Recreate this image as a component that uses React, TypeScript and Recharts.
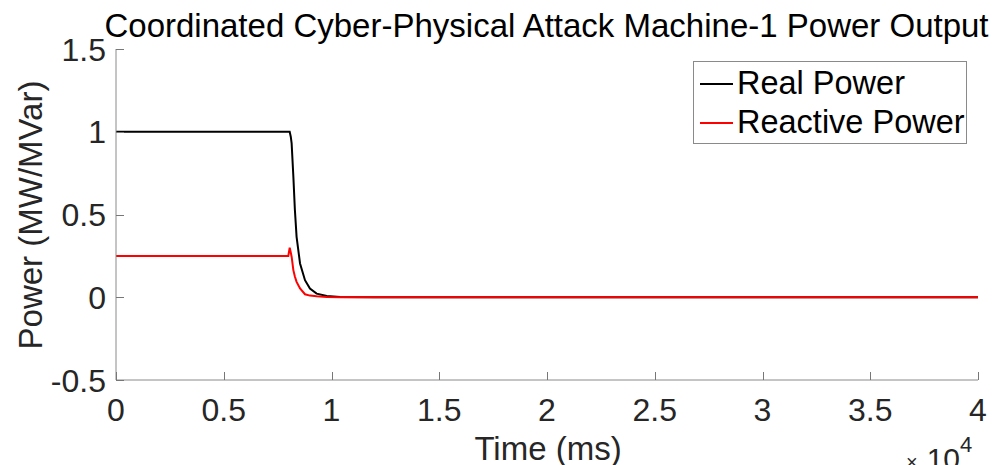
import React from 'react';
import { LineChart, Line, XAxis, YAxis } from 'recharts';

const timeMs = [0, 7995, 8060, 8110, 8150, 8230, 8300, 8380, 8540, 8770, 9000, 9310, 9780, 10400, 12000, 20000, 30000, 40000];
const realPower = [1, 1, 1, 0.97, 0.93, 0.73, 0.53, 0.365, 0.204, 0.103, 0.053, 0.022, 0.008, 0.002, 0, 0, 0, 0];
const reactivePower = [0.25, 0.25, 0.3, 0.27, 0.245, 0.164, 0.125, 0.093, 0.053, 0.018, 0.01, 0.006, 0.002, 0, 0, 0, 0, 0];
const xTicks = [0, 5000, 10000, 15000, 20000, 25000, 30000, 35000, 40000];
const yTicks = [-0.5, 0, 0.5, 1, 1.5];
const seriesNames = ['Real Power', 'Reactive Power'];
const seriesColors = ['#000000', '#ff0000'];

const data = timeMs.map((t, i) => ({ t, real: realPower[i], reactive: reactivePower[i] }));

const FONT = 'Liberation Sans, Arial, sans-serif';
const AX = '#8a8a8a';
const TICK = '#777777';
const TXT = '#262626';
const TL = 8;

const LegendBox = () => (
  <div style={{ position: 'absolute', left: 693, top: 61, border: `1px solid ${AX}`, background: '#fff', width: 274, height: 83, boxSizing: 'border-box', fontFamily: FONT, fontSize: 32.5, color: '#000', padding: '2px 0 0 6px' }}>
    {seriesNames.map((name, i) => (
      <div key={name} style={{ display: 'flex', alignItems: 'center', height: 39, whiteSpace: 'nowrap' }}>
        <div style={{ width: 33, height: 0, borderTop: `2px solid ${seriesColors[i]}`, marginRight: 4 }} />
        <span>{name}</span>
      </div>
    ))}
  </div>
);

const fmt = (v: number) => String(Math.round(v * 10) / 10);

const BottomTick = (p: any) => {
  const x = Math.round(p.x) + 0.5;
  return (
    <g>
      <path d={`M${x},${p.y}V${p.y - TL}`} stroke={TICK} strokeWidth={1} fill="none" />
      <text x={p.x} y={p.y + 41} textAnchor="middle" fontFamily={FONT} fontSize={32} fill={TXT}>
        {fmt(p.payload.value / 10000)}
      </text>
    </g>
  );
};
const TopTick = (p: any) => {
  const x = Math.round(p.x) + 0.5;
  return <path d={`M${x},${p.y}V${p.y + TL}`} stroke={TICK} strokeWidth={1} fill="none" />;
};
const LeftTick = (p: any) => {
  const y = Math.round(p.y) + 0.5;
  return (
    <g>
      <path d={`M${p.x},${y}H${p.x + TL}`} stroke={TICK} strokeWidth={1} fill="none" />
      <text x={p.x - 10} y={p.y + 11.5} textAnchor="end" fontFamily={FONT} fontSize={32} fill={TXT}>
        {fmt(p.payload.value)}
      </text>
    </g>
  );
};
const RightTick = (p: any) => {
  const y = Math.round(p.y) + 0.5;
  return <path d={`M${p.x},${y}H${p.x - TL}`} stroke={TICK} strokeWidth={1} fill="none" />;
};

export default function App() {
  return (
    <div style={{ position: 'absolute', left: 0, top: 0, width: 996, height: 465, background: '#fff', overflow: 'hidden' }}>
      <LineChart width={996} height={465} data={data} margin={{ top: 49, right: 18, bottom: 0, left: 0 }}>
        <text x={546.5} y={37} textAnchor="middle" fontFamily={FONT} fontSize={33} fill="#000">
          Coordinated Cyber-Physical Attack Machine-1 Power Output
        </text>
        <XAxis
          dataKey="t"
          type="number"
          domain={[0, 40000]}
          ticks={xTicks}
          height={85}
          stroke={AX}
          tickSize={0}
          tickMargin={0}
          tickLine={false}
          tick={<BottomTick />}
          interval={0}
          allowDataOverflow
        />
        <XAxis
          xAxisId="top"
          orientation="top"
          type="number"
          domain={[0, 40000]}
          ticks={xTicks}
          height={0}
          stroke={AX}
          tickSize={0}
          tickMargin={0}
          tickLine={false}
          tick={<TopTick />}
          interval={0}
        />
        <YAxis
          type="number"
          domain={[-0.5, 1.5]}
          ticks={yTicks}
          width={116}
          stroke={AX}
          tickSize={0}
          tickMargin={0}
          tickLine={false}
          tick={<LeftTick />}
          interval={0}
          allowDataOverflow
        />
        <YAxis
          yAxisId="right"
          orientation="right"
          type="number"
          domain={[-0.5, 1.5]}
          ticks={yTicks}
          width={0}
          stroke={AX}
          tickSize={0}
          tickMargin={0}
          tickLine={false}
          tick={<RightTick />}
          interval={0}
        />
        <text x={548} y={460} textAnchor="middle" fontFamily={FONT} fontSize={33} fill={TXT}>Time (ms)</text>
        <text x={42} y={215} textAnchor="middle" fontFamily={FONT} fontSize={33} fill={TXT} transform="rotate(-90 42 215)">Power (MW/MVar)</text>
        <text x={906} y={469} fontFamily={FONT} fill={TXT}>
          <tspan fontSize={20}>×</tspan>
          <tspan dx={9} fontSize={30}>10</tspan>
          <tspan dy={-17} fontSize={22}>4</tspan>
        </text>
        <Line type="linear" dataKey="real" name={seriesNames[0]} stroke={seriesColors[0]} strokeWidth={2} dot={false} isAnimationActive={false} />
        <Line type="linear" dataKey="reactive" name={seriesNames[1]} stroke={seriesColors[1]} strokeWidth={2} dot={false} isAnimationActive={false} />
      </LineChart>
      <LegendBox />
    </div>
  );
}
